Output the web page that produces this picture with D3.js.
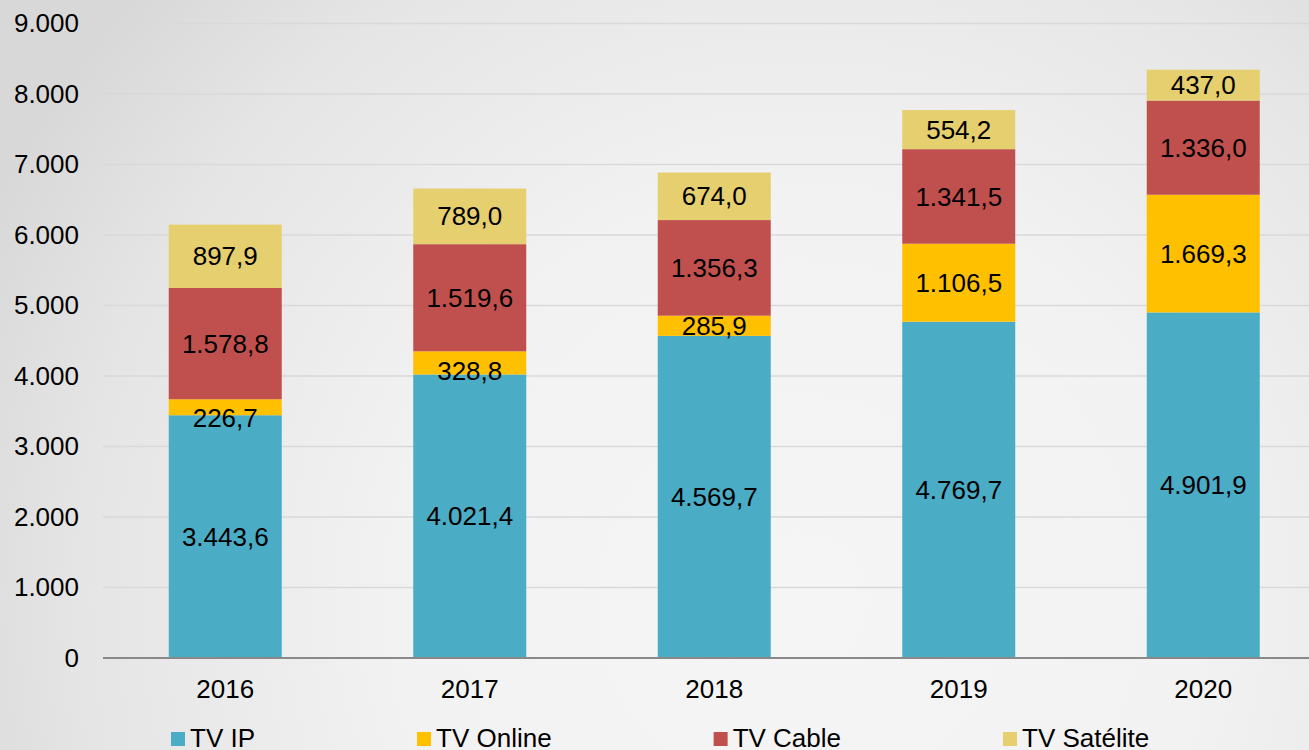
<!DOCTYPE html>
<html>
<head>
<meta charset="utf-8">
<script src="https://cdn.jsdelivr.net/npm/d3@7/dist/d3.min.js"></script>
<style>
  html, body { margin: 0; padding: 0; background: #ececec; }
  svg { display: block; font-family: "Liberation Sans", Arial, sans-serif; }
</style>
</head>
<body>
<svg id="chart" width="1309" height="750"></svg>
<script>
const years = ["2016", "2017", "2018", "2019", "2020"];
const seriesNames = ["TV IP", "TV Online", "TV Cable", "TV Satélite"];
const tvIp = [3443.6, 4021.4, 4569.7, 4769.7, 4901.9];
const tvOnline = [226.7, 328.8, 285.9, 1106.5, 1669.3];
const tvCable = [1578.8, 1519.6, 1356.3, 1341.5, 1336.0];
const tvSatelite = [897.9, 789.0, 674.0, 554.2, 437.0];
const yTicks = [0, 1000, 2000, 3000, 4000, 5000, 6000, 7000, 8000, 9000];

const colors = ["#4bacc6", "#ffc000", "#c0504d", "#e5cf6e"];

const svg = d3.select("#chart");
const width = 1309;

// background
const defs = svg.append("defs");
const bg = defs.append("radialGradient")
    .attr("id", "bg")
    .attr("gradientUnits", "userSpaceOnUse")
    .attr("cx", 800).attr("cy", 600).attr("r", 900);
bg.append("stop").attr("offset", 0).attr("stop-color", "#f5f5f5");
bg.append("stop").attr("offset", 0.45).attr("stop-color", "#f2f2f2");
bg.append("stop").attr("offset", 0.8).attr("stop-color", "#e5e5e5");
bg.append("stop").attr("offset", 1).attr("stop-color", "#d8d8d8");
svg.append("rect").attr("width", width).attr("height", 750).attr("fill", "url(#bg)");

const rows = years.map((year, i) => ({
  year: year,
  "TV IP": tvIp[i],
  "TV Online": tvOnline[i],
  "TV Cable": tvCable[i],
  "TV Satélite": tvSatelite[i]
}));

const stack = d3.stack().keys(seriesNames)(rows);

const step = 244.5;
const x = d3.scaleBand()
    .domain(years)
    .range([103, 103 + step * years.length])
    .paddingInner(1 - 113 / step)
    .paddingOuter((1 - 113 / step) / 2);

const y = d3.scaleLinear()
    .domain([0, 9000])
    .range([658, 23.5]);

const fmt = d3.formatLocale({ decimal: ",", thousands: ".", grouping: [3], currency: ["", ""] });
const tickFmt = fmt.format(",.0f");
const labelFmt = fmt.format(",.1f");

// gridlines
svg.append("g")
  .selectAll("line")
  .data(yTicks.slice(1))
  .enter().append("line")
    .attr("x1", 103)
    .attr("x2", width)
    .attr("y1", d => y(d))
    .attr("y2", d => y(d))
    .attr("stroke", "#d9d9d9")
    .attr("stroke-width", 1.5);

// y axis labels
const yAxis = svg.append("g")
    .attr("transform", "translate(79,0)")
    .call(d3.axisLeft(y).tickValues(yTicks).tickFormat(tickFmt).tickSize(0).tickPadding(0));
yAxis.select(".domain").remove();
yAxis.selectAll("text")
    .attr("font-size", 26)
    .attr("fill", "#000")
    .attr("font-family", "Liberation Sans, Arial, sans-serif");

// bars
const layer = svg.append("g")
  .selectAll("g")
  .data(stack)
  .enter().append("g")
    .attr("fill", (d, i) => colors[i]);

layer.selectAll("rect")
  .data(d => d)
  .enter().append("rect")
    .attr("x", d => x(d.data.year))
    .attr("width", x.bandwidth())
    .attr("y", d => y(d[1]))
    .attr("height", d => y(d[0]) - y(d[1]));

// small labels that were moved down a bit in the original
const nudge = { "TV Online|2016": 11, "TV Online|2017": 8 };

layer.each(function(s) {
  d3.select(this).selectAll("text")
    .data(s)
    .enter().append("text")
      .attr("x", d => x(d.data.year) + x.bandwidth() / 2)
      .attr("y", d => (y(d[0]) + y(d[1])) / 2 + (nudge[s.key + "|" + d.data.year] || 0))
      .attr("dy", "0.35em")
      .attr("text-anchor", "middle")
      .attr("font-size", 26)
      .attr("fill", "#000")
      .text(d => labelFmt(d[1] - d[0]));
});

// x axis
const xAxis = svg.append("g")
    .attr("transform", "translate(0,658)")
    .call(d3.axisBottom(x).tickSize(0).tickPadding(22));
xAxis.select(".domain")
    .attr("d", `M103,0H${width}`)
    .attr("stroke", "#898989")
    .attr("stroke-width", 2);
xAxis.selectAll("text")
    .attr("font-size", 26)
    .attr("fill", "#000")
    .attr("font-family", "Liberation Sans, Arial, sans-serif");

// legend
const legend = svg.append("g");
let lx = 171;
seriesNames.forEach((name, i) => {
  const item = legend.append("g").attr("transform", `translate(${lx},0)`);
  item.append("rect")
      .attr("x", 0).attr("y", 732)
      .attr("width", 14).attr("height", 14)
      .attr("fill", colors[i]);
  const t = item.append("text")
      .attr("x", 19).attr("y", 747)
      .attr("font-size", 26)
      .attr("fill", "#000")
      .text(name);
  lx += 19 + t.node().getComputedTextLength() + 162;
});
</script>
</body>
</html>
